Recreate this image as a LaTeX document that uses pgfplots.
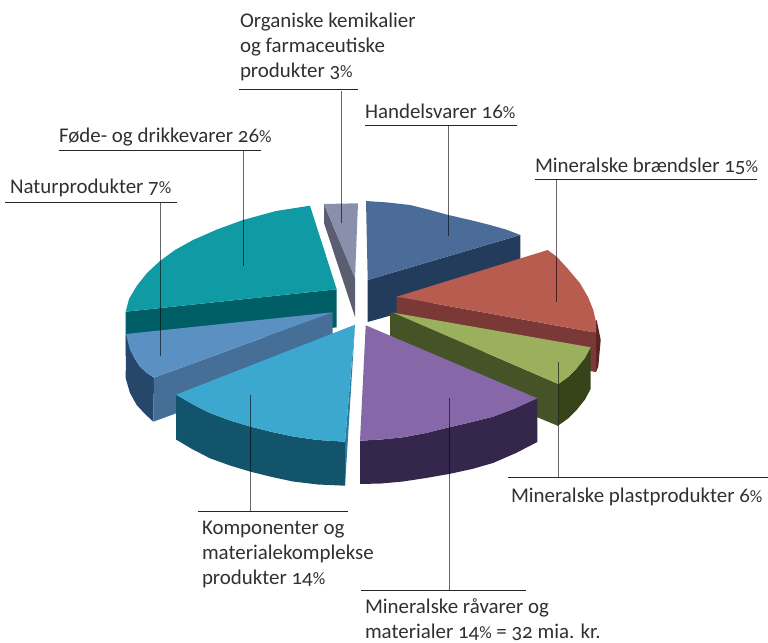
\documentclass[border=0pt]{standalone}
\usepackage{pgfplots}
\pgfplotsset{compat=1.18}
\usepackage{fontspec}
\setmainfont[Numbers=OldStyle]{Carlito}
\definecolor{tealT}{HTML}{0F9AA4}\definecolor{tealS}{HTML}{005F66}
\definecolor{ltbT}{HTML}{5B91C2}\definecolor{ltbS}{HTML}{456F96}\definecolor{ltbO}{HTML}{27476A}
\definecolor{skyT}{HTML}{3CA8D0}\definecolor{skyO}{HTML}{11546C}\definecolor{skyS}{HTML}{2A7F9E}
\definecolor{purT}{HTML}{8667A8}\definecolor{purO}{HTML}{35264C}
\definecolor{grnT}{HTML}{9BB05C}\definecolor{grnS}{HTML}{455326}\definecolor{grnO}{HTML}{374419}
\definecolor{redT}{HTML}{B85C50}\definecolor{redS}{HTML}{7A3836}\definecolor{redO}{HTML}{5E2220}
\definecolor{navT}{HTML}{4B6C98}\definecolor{navS}{HTML}{243C5C}
\definecolor{gryT}{HTML}{8A90AB}\definecolor{gryS}{HTML}{5A5E70}
\definecolor{txt}{HTML}{303030}
\newcommand{\pct}{{\fontsize{17.5}{25}\selectfont\%}}
\newcommand{\lbl}[3]{\node[anchor=base west,inner sep=0pt,outer sep=0pt,text=txt,font=\fontsize{21}{25}\selectfont] at (axis cs:#1,#2) {#3};}
\begin{document}
\begin{tikzpicture}
\path[use as bounding box] (0,0) rectangle (768bp,643bp);
\begin{axis}[at={(0,0)},anchor=south west,scale only axis,width=768bp,height=643bp,
  xmin=0,xmax=768,ymin=0,ymax=643,y dir=reverse,hide axis,clip=false]
% gray slice
\addplot[draw=none,fill=gryS] coordinates {(324,204)(355,278)(355,317)(324,223)} --cycle;
\addplot[draw=none,fill=gryT] coordinates {(324,204)(358,203.3)(355,278.3)} --cycle;
% navy slice
\addplot[draw=none,fill=navS] coordinates {(367.7,280)(520.3,235)(520.3,279)(367.7,322)} --cycle;
\addplot[draw=none,fill=navT] coordinates {(366,201)(388,202.5)(410,205)(430,210)(448.3,215)(470,220)(490,225)(506,229.5)(520.3,235)(367.7,280)} --cycle;
% red slice
\addplot[draw=none,fill=redO] coordinates {(596.7,320)(600.7,340)(598.3,366.7)(596,372)(590,370)(590,330)} --cycle;
\addplot[draw=none,fill=redS] coordinates {(396.7,296.7)(596,332.7)(596,372)(396.7,336)} --cycle;
\addplot[draw=none,fill=redT] coordinates {(396.7,296.7)(547.7,250)(556.7,256.7)(568,269)(580,283.3)(588,297)(593.3,310)(596,322)(596,332.7)} --cycle;
% green slice
\addplot[draw=none,fill=grnS] coordinates {(390,313.3)(393.3,312.7)(558.3,384)(558.3,426)(390,356)} --cycle;
\addplot[draw=none,fill=grnO] coordinates {(558.3,384)(568,377)(576.7,368.3)(585,358)(590.7,347.3)(590.7,388.8)(585,399.5)(576.7,409.8)(568,418.5)(558.3,425.5)} --cycle;
\addplot[draw=none,fill=grnT] coordinates {(393.3,312.7)(590.7,347.3)(585,358)(576.7,368.3)(568,377)(558.3,384)} --cycle;
% teal slice
\addplot[draw=none,fill=tealS] coordinates {(125.7,311.7)(336.7,289.3)(336.7,327.3)(125.7,356)} --cycle;
\addplot[draw=none,fill=tealT] coordinates {(125.7,311.7)(129,299)(136.7,286)(147,273)(160,261)(175,250)(193,240)(217,229.5)(243,220)(276,211)(310,205.7)(336.7,289.3)} --cycle;
% light blue slice
\addplot[draw=none,fill=ltbO] coordinates {(126,334)(130,350)(135,359)(140,366.7)(147,373)(154,377.7)(153.3,421.7)(145,414)(136.7,405)(130,393)(125.7,378.3)} --cycle;
\addplot[draw=none,fill=ltbS] coordinates {(332.7,312.3)(154,377.7)(153.3,421.7)(332.4,356)} --cycle;
\addplot[draw=none,fill=ltbT] coordinates {(126,334)(332.7,312.3)(154,377.7)(147,373)(140,366.7)(135,359)(130,350)} --cycle;
% sky slice
\addplot[draw=none,fill=skyS] coordinates {(355,324.7)(345,441.7)(345,485.7)} --cycle;
\addplot[draw=none,fill=skyO] coordinates {(176,394.7)(192,404)(210,413)(230,420.5)(250,426.5)(272,432)(293,436.5)(318,440)(345,441.7)(345,485.7)(318,484.5)(293,481.5)(272,477)(250,471.5)(230,465.5)(210,458.3)(192,449)(176,439.5)} --cycle;
\addplot[draw=none,fill=skyT] coordinates {(355,324.7)(176,394.7)(192,404)(210,413)(230,420.5)(250,426.5)(272,432)(293,436.5)(318,440)(345,441.7)} --cycle;
% purple slice
\addplot[draw=none,fill=purO] coordinates {(360,440.7)(381,439.5)(403,437.3)(426,433)(449,427.3)(472,422)(493,416.7)(516,408)(537.3,398.3)(537.3,442)(516,453)(493,463)(472,469)(449,474)(426,478)(403,481.5)(381,483.5)(360,484)} --cycle;
\addplot[draw=none,fill=purT] coordinates {(365.7,325.3)(537.3,398.3)(516,408)(493,416.7)(472,422)(449,427.3)(426,433)(403,437.3)(381,439.5)(360,440.7)} --cycle;
% leader lines and underlines
\pgfplotsset{leader/.style={black,opacity=0.6,line width=1pt,no marks}}
\addplot[leader] coordinates {(341,91)(341,223)};
\addplot[leader] coordinates {(448.5,125)(448.5,236)};
\addplot[leader] coordinates {(556.7,180)(556.7,302)};
\addplot[leader] coordinates {(558.5,362)(558.5,478)};
\addplot[leader] coordinates {(449,398)(449,590)};
\addplot[leader] coordinates {(250,395)(250,511)};
\addplot[leader] coordinates {(243,151)(243,266)};
\addplot[leader] coordinates {(160,202)(160,356)};
\addplot[black!85,line width=0.8pt,no marks] coordinates {(239,89.3)(358,89.3)};
\addplot[black!85,line width=0.8pt,no marks] coordinates {(365,125)(517,125)};
\addplot[black!85,line width=0.8pt,no marks] coordinates {(534.7,179)(756.7,179)};
\addplot[black!85,line width=0.8pt,no marks] coordinates {(508,477.7)(768,477.7)};
\addplot[black!85,line width=0.8pt,no marks] coordinates {(361,590.3)(525.7,590.3)};
\addplot[black!85,line width=0.8pt,no marks] coordinates {(198,511)(348,511)};
\addplot[black!85,line width=0.8pt,no marks] coordinates {(59,150.7)(261,150.7)};
\addplot[black!85,line width=0.8pt,no marks] coordinates {(5,202)(177,202)};
% labels
\lbl{240}{28}{Organiske kemikalier}
\lbl{240}{53}{og farmaceutiske}
\lbl{240}{78}{produkter 3\pct}
\lbl{365}{118}{Handelsvarer 16\pct}
\lbl{535}{172}{Mineralske brændsler 15\pct}
\lbl{59}{142}{Føde- og drikkevarer 26\pct}
\lbl{10}{193}{Naturprodukter 7\pct}
\lbl{511}{502}{Mineralske plastprodukter 6\pct}
\lbl{202}{534}{Komponenter og}
\lbl{202}{559}{materialekomplekse}
\lbl{202}{584}{produkter 14\pct}
\lbl{365}{613}{Mineralske råvarer og}
\lbl{365}{638}{materialer 14\pct{} = 32 mia. kr.}
\end{axis}
\end{tikzpicture}
\end{document}
